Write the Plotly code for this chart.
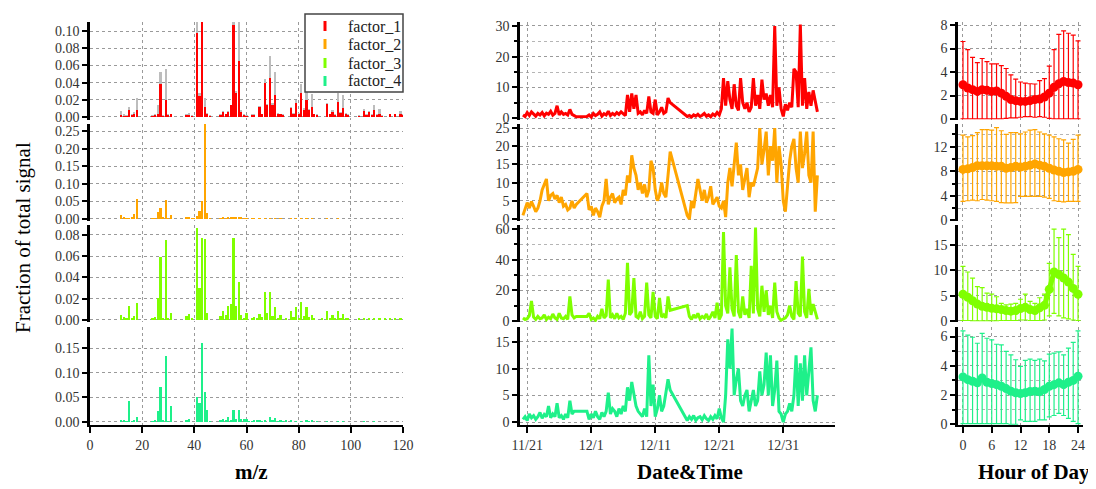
import plotly.graph_objects as go
import pandas as pd

# The page body adds an 8px offset; the figure is sized so it ends at the window edge.
OFF = 8
FW, FH = 1088, 481
SERIF = "Liberation Serif, DejaVu Serif, serif"

FACTORS = ["factor_1", "factor_2", "factor_3", "factor_4"]
COLORS = ["#FF0000", "#FFA500", "#7FFF00", "#1EF08A"]
GRAY = "#BDBDBD"

# ---------------- mass spectra (sparse m/z lists) ----------------
F1_MZ = [12, 13, 14, 15, 16, 17, 18, 24, 25, 26, 27, 28, 29, 30, 31, 37, 38, 39, 41, 42, 43, 44, 45, 46,
         50, 51, 52, 53, 54, 55, 56, 57, 58, 59, 60, 62, 63, 65, 66, 67, 68, 69, 70, 71, 72, 73, 74,
         77, 78, 79, 80, 81, 82, 83, 84, 85, 86, 87, 91, 92, 93, 94, 95, 96, 97, 98, 99, 103,
         105, 106, 107, 108, 109, 110, 111, 112, 115, 117, 119, 120]
F1_RED = [0.002, 0.001, 0.001, 0.008, 0.002, 0.003, 0.008, 0.001, 0.002, 0.004, 0.038, 0.001, 0.020, 0.002, 0.003,
          0.002, 0.002, 0.001, 0.098, 0.025, 0.140, 0.012, 0.004, 0.001,
          0.002, 0.006, 0.003, 0.006, 0.014, 0.107, 0.028, 0.065, 0.006, 0.002, 0.001, 0.002, 0.002,
          0.012, 0.003, 0.039, 0.014, 0.045, 0.014, 0.026, 0.004, 0.003, 0.002,
          0.011, 0.004, 0.016, 0.004, 0.028, 0.008, 0.020, 0.008, 0.012, 0.003, 0.002,
          0.015, 0.003, 0.006, 0.002, 0.017, 0.005, 0.010, 0.004, 0.002, 0.001,
          0.007, 0.002, 0.006, 0.002, 0.008, 0.002, 0.004, 0.001, 0.003, 0.003, 0.004, 0.002]
F1_GRAY = [0.007, 0.003, 0.002, 0.012, 0.004, 0.006, 0.022, 0.002, 0.003, 0.014, 0.052, 0.002, 0.056, 0.004, 0.004,
           0.003, 0.005, 0.002, 0.130, 0.028, 0.150, 0.022, 0.005, 0.002,
           0.003, 0.007, 0.004, 0.007, 0.014, 0.130, 0.030, 0.130, 0.008, 0.003, 0.002, 0.003, 0.003,
           0.013, 0.004, 0.044, 0.015, 0.071, 0.016, 0.052, 0.005, 0.004, 0.003,
           0.012, 0.005, 0.020, 0.005, 0.038, 0.010, 0.030, 0.009, 0.027, 0.004, 0.003,
           0.016, 0.004, 0.008, 0.003, 0.028, 0.006, 0.026, 0.005, 0.003, 0.002,
           0.009, 0.003, 0.007, 0.003, 0.014, 0.003, 0.009, 0.002, 0.004, 0.004, 0.007, 0.003]

F2_MZ = [12, 13, 14, 15, 16, 17, 18, 24, 25, 26, 27, 28, 29, 30, 31, 37, 38, 39, 40, 41, 42, 43, 44, 45, 46,
         50, 51, 52, 53, 54, 55, 56, 57, 58, 59, 60, 62, 63, 65, 67, 69, 71, 73, 77, 79, 81, 83, 85, 91, 95]
F2_VAL = [0.012, 0.004, 0.002, 0.002, 0.004, 0.014, 0.058, 0.001, 0.002, 0.020, 0.032, 0.004, 0.053, 0.002, 0.010,
          0.003, 0.004, 0.002, 0.001, 0.008, 0.022, 0.050, 0.270, 0.016, 0.002,
          0.002, 0.003, 0.002, 0.004, 0.005, 0.005, 0.004, 0.005, 0.003, 0.002, 0.002, 0.001, 0.001,
          0.002, 0.002, 0.002, 0.001, 0.001, 0.001, 0.001, 0.001, 0.001, 0.001, 0.001, 0.001]

F3_MZ = [12, 13, 14, 15, 16, 17, 18, 24, 25, 26, 27, 28, 29, 30, 31, 37, 38, 39, 41, 42, 43, 44, 45,
         50, 51, 52, 53, 54, 55, 56, 57, 58, 59, 60, 62, 63, 64, 65, 66, 67, 68, 69, 70, 71, 72, 73, 75,
         77, 78, 79, 80, 81, 82, 83, 84, 85, 86, 89, 91, 92, 93, 94, 95, 96, 97, 98, 99, 103,
         105, 107, 109, 111, 113, 115, 117, 119]
F3_VAL = [0.005, 0.003, 0.001, 0.013, 0.002, 0.004, 0.016, 0.001, 0.003, 0.021, 0.059, 0.002, 0.075, 0.002, 0.007,
          0.004, 0.006, 0.001, 0.087, 0.030, 0.077, 0.076, 0.007,
          0.004, 0.008, 0.005, 0.013, 0.015, 0.077, 0.013, 0.036, 0.005, 0.001, 0.007, 0.002, 0.003, 0.002,
          0.006, 0.003, 0.026, 0.007, 0.026, 0.004, 0.012, 0.002, 0.005, 0.001,
          0.008, 0.003, 0.012, 0.002, 0.017, 0.004, 0.012, 0.003, 0.005, 0.001, 0.001,
          0.008, 0.002, 0.005, 0.001, 0.008, 0.002, 0.006, 0.002, 0.001, 0.001,
          0.002, 0.002, 0.002, 0.001, 0.001, 0.001, 0.001, 0.001]

F4_MZ = [12, 13, 14, 15, 16, 17, 18, 24, 25, 26, 27, 28, 29, 30, 31, 37, 38, 41, 42, 43, 44, 45, 46,
         50, 51, 52, 53, 54, 55, 56, 57, 58, 59, 60, 61, 62, 63, 64, 65, 66, 67, 69, 70, 71, 72, 73, 74, 75,
         77, 79, 81, 83, 84, 85, 87, 91, 95, 97, 105, 109]
F4_VAL = [0.003, 0.003, 0.002, 0.043, 0.002, 0.003, 0.010, 0.002, 0.003, 0.022, 0.070, 0.003, 0.134, 0.002, 0.033,
          0.004, 0.007, 0.051, 0.039, 0.160, 0.060, 0.025, 0.002,
          0.005, 0.007, 0.004, 0.010, 0.004, 0.024, 0.007, 0.025, 0.007, 0.006, 0.006, 0.002, 0.002, 0.003,
          0.003, 0.004, 0.002, 0.003, 0.010, 0.004, 0.008, 0.002, 0.005, 0.002, 0.003,
          0.004, 0.002, 0.002, 0.004, 0.002, 0.003, 0.001, 0.002, 0.001, 0.002, 0.002, 0.001]

# ---------------- time series (8-hourly samples, three contiguous segments) ----------------
SEG_STARTS = ["2013-11-20 08:00", "2013-11-30 08:00", "2013-12-16 00:00"]
SEG_LENGTHS = [26, 40, 62]

TS1 = [1.0, 0.5, 1.8, 0.8, 2.0, 1.2, 0.6, 1.5, 1.0, 1.8, 0.7, 1.6, 1.2, 2.2, 0.9, 1.5, 4.0, 1.0, 2.0, 1.2,
       1.5, 1.0, 2.8, 1.2, 0.8, 0.4,
       0.5, 1.0, 0.3, 1.5, 0.8, 1.2, 2.0, 0.6, 1.4, 1.0, 2.2, 0.8, 1.5, 1.0, 1.8, 1.2, 2.0, 1.4, 0.8, 7.5,
       2.0, 8.0, 3.0, 7.5, 1.5, 2.0, 1.0, 2.5, 1.5, 7.0, 2.0, 1.5, 6.0, 1.0, 2.0, 3.5, 1.5, 2.0, 6.5, 5.0,
       0.5, 0.8, 0.3, 1.0, 0.6, 1.2, 0.5, 0.9, 1.5, 0.6, 1.0, 0.4, 1.3, 0.8, 1.8, 1.0,
       3.0, 13.0, 4.0, 12.0, 6.0, 3.0, 11.0, 4.0, 2.5, 13.0, 5.0, 3.0, 5.0, 2.0, 3.5, 13.0, 4.0, 7.5, 3.0,
       12.5, 6.0, 8.0, 4.0, 7.5, 3.5, 30.0, 4.0, 10.0, 3.0, 0.5, 4.5, 2.5, 5.0, 3.5, 16.0, 15.0, 3.5, 30.5,
       4.0, 13.0, 3.0, 8.5, 4.0, 9.0, 6.0, 2.0]
TS2 = [1.0, 2.5, 4.5, 3.0, 4.8, 3.5, 2.0, 3.0, 5.0, 8.0, 9.5, 11.0, 5.0, 6.5, 7.0, 5.5, 6.5, 4.5, 6.0, 3.5,
       4.0, 2.5, 3.0, 5.0, 3.0, 4.0,
       7.0, 2.5, 3.5, 1.0, 3.0, 2.0, 0.5, 3.5, 5.0, 11.0, 4.0, 6.0, 7.0, 4.5, 5.5, 6.0, 4.0, 8.0, 6.5, 12.0,
       10.0, 17.5, 14.0, 12.0, 8.0, 10.0, 7.0, 9.5, 6.0, 8.0, 16.0, 14.0, 8.0, 5.0, 6.5, 10.0, 7.0, 6.0,
       12.0, 18.5,
       1.0, 0.0, 5.0, 3.0, 7.0, 11.0, 8.0, 5.0, 8.0, 4.5, 6.0, 9.0, 4.0, 5.0, 6.0, 3.5, 3.0, 5.0, 0.5, 10.0,
       14.0, 9.0, 16.0, 21.0, 12.0, 15.0, 8.0, 11.0, 14.0, 6.0, 10.0, 9.0, 12.0, 14.0, 25.0, 15.0, 19.0,
       24.0, 12.0, 20.0, 16.0, 25.0, 10.0, 20.0, 15.0, 5.0, 2.0, 10.0, 16.0, 20.0, 22.0, 14.0, 10.0, 24.0,
       14.0, 18.0, 24.0, 12.0, 10.0, 24.0, 2.0, 12.0]
TS3 = [2.0, 1.0, 1.5, 3.5, 13.0, 2.5, 1.0, 3.0, 1.5, 2.0, 4.0, 1.0, 2.5, 1.5, 4.5, 2.0, 1.0, 5.0, 2.0, 1.5,
       3.0, 1.0, 16.0, 4.0, 2.0, 3.0,
       3.0, 5.0, 1.0, 2.0, 0.5, 3.0, 1.5, 8.0, 2.0, 3.5, 27.0, 2.0, 4.0, 1.5, 5.0, 2.0, 3.0, 1.0, 5.0, 38.0,
       4.0, 6.0, 28.0, 3.0, 2.0, 6.0, 1.5, 3.0, 25.0, 4.0, 2.0, 19.0, 3.0, 1.5, 15.0, 2.5, 4.0, 2.0, 16.0,
       7.0,
       10.0, 3.0, 1.0, 4.0, 2.0, 5.0, 1.5, 3.0, 2.0, 4.5, 1.0, 3.0, 6.0, 2.0, 12.0, 1.0, 4.0, 58.0, 10.0,
       5.0, 35.0, 8.0, 3.0, 43.0, 6.0, 2.0, 16.0, 4.0, 8.0, 2.0, 36.0, 5.0, 61.0, 8.0, 3.0, 23.0, 6.0, 20.0,
       4.0, 10.0, 2.0, 25.0, 6.0, 2.0, 0.5, 1.0, 2.0, 4.0, 10.0, 3.0, 1.0, 26.0, 5.0, 3.0, 42.0, 6.0, 2.0,
       21.0, 4.0, 11.0, 5.0, 1.0]
TS4 = [0.5, 1.0, 0.3, 1.5, 0.8, 1.2, 0.5, 1.0, 1.8, 0.7, 1.4, 1.0, 3.0, 0.8, 1.5, 1.0, 3.5, 0.8, 1.2, 0.5,
       1.5, 0.8, 4.0, 1.5, 2.0, 2.0,
       2.0, 0.5, 1.5, 0.8, 2.0, 1.0, 0.5, 1.8, 1.0, 2.0, 5.5, 1.5, 2.5, 2.0, 1.0, 2.5, 1.5, 3.0, 2.0, 6.5,
       4.0, 7.5, 5.0, 3.0, 2.0, 1.5, 1.0, 2.5, 1.0, 12.5, 3.0, 7.0, 1.0, 2.5, 5.0, 2.0, 3.0, 5.5, 8.0, 6.0,
       0.3, 1.0, 0.5, 1.2, 0.3, 0.8, 1.0, 0.4, 1.2, 0.6, 0.3, 1.0, 0.5, 1.2, 0.6, 2.5, 0.8, 0.0, 5.0, 15.5,
       10.0, 17.5, 5.0, 8.0, 10.0, 4.0, 3.0, 5.0, 6.0, 2.0, 4.0, 6.0, 3.0, 4.0, 9.5, 5.0, 7.0, 13.0, 5.0,
       12.5, 3.0, 6.0, 11.5, 2.0, 1.5, 0.0, 1.5, 2.0, 3.5, 2.0, 5.0, 12.5, 3.0, 11.0, 4.0, 12.5, 5.0, 9.0,
       14.0, 4.0, 2.0, 5.0]

# ---------------- diurnal cycles (mean, upper, lower) ----------------
HOURS = list(range(25))
D1_MEAN = [2.92, 2.64, 2.5, 2.35, 2.5, 2.44, 2.35, 2.38, 2.2, 1.93, 1.65, 1.56, 1.5, 1.5, 1.56, 1.65, 1.7,
           1.87, 2.2, 2.7, 3.0, 3.2, 3.1, 3.06, 2.92]
D1_UP = [6.6, 5.9, 5.25, 4.8, 5.15, 4.88, 4.7, 4.7, 4.55, 4.3, 3.75, 3.4, 3.15, 3.06, 3.0, 2.98, 3.26, 3.43,
         4.5, 5.9, 7.2, 7.5, 7.3, 7.15, 6.66]
D1_LO = [0.02, 0.02, 0.02, 0.02, 0.02, 0.02, 0.02, 0.02, 0.02, 0.05, 0.1, 0.1, 0.15, 0.2, 0.2, 0.15, 0.2, 0.15,
         0.05, 0.02, 0.02, 0.02, 0.02, 0.02, 0.02]
D2_MEAN = [8.3, 8.4, 8.6, 8.9, 8.9, 8.9, 8.9, 8.8, 8.8, 8.5, 8.6, 8.8, 8.7, 8.8, 9.0, 9.2, 9.0, 8.8, 8.5,
           8.2, 8.0, 7.8, 7.9, 8.0, 8.3]
D2_UP = [13.9, 13.6, 13.8, 14.3, 14.8, 14.8, 14.7, 15.1, 14.6, 14.0, 14.3, 14.3, 14.1, 14.4, 14.7, 14.8,
         14.4, 14.1, 13.9, 13.6, 13.3, 13.1, 12.6, 13.2, 13.9]
D2_LO = [3.1, 3.2, 3.3, 3.2, 3.4, 3.3, 3.2, 3.1, 2.9, 2.85, 2.85, 2.9, 3.9, 3.9, 3.9, 3.9, 3.9, 3.8, 3.6,
         3.2, 3.1, 3.0, 3.1, 3.1, 3.1]
D3_MEAN = [5.3, 4.7, 4.0, 3.35, 2.9, 2.7, 2.5, 2.4, 2.25, 2.06, 1.94, 2.06, 2.45, 2.7, 2.25, 2.06, 2.6, 3.1,
           6.26, 9.7, 9.2, 8.5, 7.7, 6.45, 5.3]
D3_UP = [10.8, 9.7, 8.5, 6.8, 6.6, 5.5, 5.3, 4.8, 3.5, 3.2, 3.35, 3.5, 4.3, 5.3, 3.9, 3.5, 4.6, 5.3, 11.4,
         18.2, 16.5, 18.2, 17.1, 13.2, 10.8]
D3_LO = [0.1, 0.1, 0.05, 0.05, 0.05, 0.05, 0.05, 0.05, 0.1, 0.1, 0.1, 0.1, 0.2, 0.2, 0.1, 0.1, 0.1, 0.2, 1.0,
         1.5, 1.0, 0.6, 0.4, 0.2, 0.1]
D4_MEAN = [3.24, 3.05, 2.94, 2.83, 3.17, 2.87, 2.78, 2.71, 2.6, 2.44, 2.26, 2.15, 2.1, 2.15, 2.24, 2.26,
           2.22, 2.38, 2.6, 2.71, 2.83, 2.71, 2.87, 3.0, 3.28]
D4_UP = [6.38, 6.1, 5.95, 5.54, 6.22, 5.88, 5.77, 5.47, 5.43, 4.98, 4.75, 4.41, 3.96, 4.37, 4.46, 4.37, 4.46,
         4.34, 4.8, 4.86, 4.95, 4.75, 5.2, 5.6, 6.38]
D4_LO = [0.05, 0.05, 0.05, 0.05, 0.05, 0.05, 0.05, 0.05, 0.05, 0.05, 0.0, 0.0, 0.3, 0.2, 0.2, 0.2, 0.3, 0.3,
         0.5, 0.6, 0.75, 0.6, 0.4, 0.2, 0.05]

DATE_TICKS = ["2013-11-21", "2013-12-01", "2013-12-11", "2013-12-21", "2013-12-31"]
DATE_LABELS = ["11/21", "12/1", "12/11", "12/21", "12/31"]


# ---------------- layout geometry (window pixels) ----------------
def fx(px):
    return (px - OFF) / FW


def fy(py):
    return 1 - (py - OFF) / FH


COL_PX = [(90, 403), (520, 835), (958, 1083)]
ROW_PX = [(22, 120), (124, 221), (225, 322), (327, 425)]

Y_RANGES = [
    [[-0.0035, 0.1105], [-0.0057, 0.27], [-0.0019, 0.0894], [-0.0061, 0.1926]],
    [[-0.65, 31.3], [-0.55, 26.1], [-0.65, 62.6], [-0.56, 17.8]],
    [[-0.085, 8.26], [-0.1, 15.7], [-0.2, 19.0], [-0.05, 6.65]],
]
Y_DTICK = [[0.02, 0.05, 0.02, 0.05], [10, 5, 20, 5], [2, 4, 5, 2]]
Y_MINOR = [[None, None, None, None], [5, None, 10, None], [None, 2, None, 1]]

times = pd.concat([pd.Series(pd.date_range(s, periods=n, freq="8h"))
                   for s, n in zip(SEG_STARTS, SEG_LENGTHS)]).tolist()

fig = go.Figure()


def ax_id(c, r):
    return c * 4 + r + 1


def ref(prefix, n):
    return prefix if n == 1 else f"{prefix}{n}"


# spectra
spectra = [(F1_MZ, F1_RED), (F2_MZ, F2_VAL), (F3_MZ, F3_VAL), (F4_MZ, F4_VAL)]
for r, (mz, vals) in enumerate(spectra):
    n = ax_id(0, r)
    if r == 0:
        fig.add_trace(go.Bar(x=F1_MZ, y=F1_GRAY, width=0.85, marker=dict(color=GRAY, line=dict(width=0)),
                             showlegend=False, xaxis=ref("x", n), yaxis=ref("y", n)))
    fig.add_trace(go.Bar(x=mz, y=vals, width=0.85, marker=dict(color=COLORS[r], line=dict(width=0)),
                         name=FACTORS[r], showlegend=False, xaxis=ref("x", n), yaxis=ref("y", n)))

# time series
for r, ts in enumerate([TS1, TS2, TS3, TS4]):
    n = ax_id(1, r)
    fig.add_trace(go.Scatter(x=times, y=ts, mode="lines", line=dict(color=COLORS[r], width=3),
                             showlegend=False, xaxis=ref("x", n), yaxis=ref("y", n)))

# diurnal
for r, (m, up, lo) in enumerate([(D1_MEAN, D1_UP, D1_LO), (D2_MEAN, D2_UP, D2_LO),
                                 (D3_MEAN, D3_UP, D3_LO), (D4_MEAN, D4_UP, D4_LO)]):
    n = ax_id(2, r)
    fig.add_trace(go.Scatter(
        x=HOURS, y=m, mode="lines+markers",
        line=dict(color=COLORS[r], width=5), marker=dict(color=COLORS[r], size=9),
        error_y=dict(type="data", symmetric=False,
                     array=[u - v for u, v in zip(up, m)],
                     arrayminus=[v - l for v, l in zip(m, lo)],
                     color=COLORS[r], thickness=1.2, width=2.5),
        showlegend=False, xaxis=ref("x", n), yaxis=ref("y", n)))

tickfont = dict(family=SERIF, size=14, color="#333")
grid = dict(showgrid=True, gridcolor="#9a9a9a", griddash="dot", gridwidth=1)

layout = {}
for c in range(3):
    x0, x1 = COL_PX[c]
    for r in range(4):
        n = ax_id(c, r)
        y0, y1 = ROW_PX[r]
        xa = dict(domain=[fx(x0), fx(x1)], anchor=ref("y", n), **grid, zeroline=False, automargin=False)
        if c == 0:
            xa.update(range=[0, 120], tick0=0, dtick=20)
        elif c == 1:
            xa.update(type="date", range=["2013-11-19 21:00", "2014-01-08 02:00"],
                      tickvals=DATE_TICKS, ticktext=DATE_LABELS)
        else:
            xa.update(range=[-1.04, 25.04], tickvals=[0, 6, 12, 18, 24])
        if r < 3:
            xa.update(showticklabels=False, ticks="", showline=False, matches=ref("x", ax_id(c, 3)))
        else:
            xa.update(showline=True, linecolor="black", linewidth=2, ticks="outside", ticklen=6,
                      tickwidth=2, tickcolor="black", tickfont=tickfont)
        ya = dict(domain=[fy(y1), fy(y0)], anchor=ref("x", n), range=Y_RANGES[c][r],
                  tick0=0, dtick=Y_DTICK[c][r], **grid, zeroline=False, automargin=False,
                  showline=True, linecolor="black", linewidth=2.5, ticks="outside", ticklen=5,
                  tickwidth=2, tickcolor="black", tickfont=tickfont)
        if c == 0:
            ya.update(tickformat=".2f")
        if Y_MINOR[c][r]:
            ya.update(minor=dict(dtick=Y_MINOR[c][r], ticks="outside", ticklen=3, tickwidth=1.5,
                                 tickcolor="black", showgrid=True, gridcolor="#b5b5b5", griddash="dot"))
        layout[ref("xaxis", n)] = xa
        layout[ref("yaxis", n)] = ya

fig.update_layout(**layout)

# hand-drawn legend box (paper coordinates)
LEG_BOX = (305, 14, 403, 92)
LEG_ROWS = [26, 44, 63, 81]
shapes = [dict(type="rect", xref="paper", yref="paper", x0=fx(LEG_BOX[0]), x1=fx(LEG_BOX[2]),
               y0=fy(LEG_BOX[3]), y1=fy(LEG_BOX[1]), fillcolor="white",
               line=dict(color="#444", width=1.5), layer="above")]
annotations = []
for name, col, ry in zip(FACTORS, COLORS, LEG_ROWS):
    shapes.append(dict(type="line", xref="paper", yref="paper", x0=fx(325), x1=fx(325),
                       y0=fy(ry + 5), y1=fy(ry - 5), line=dict(color=col, width=3), layer="above"))
    annotations.append(dict(text=name, x=fx(346), y=fy(ry), xref="paper", yref="paper",
                            xanchor="left", yanchor="middle", showarrow=False,
                            font=dict(family=SERIF, size=16, color="#222")))

annotations += [
    dict(text="Fraction of total signal", x=fx(23), y=fy(238), xref="paper", yref="paper",
         xanchor="center", yanchor="middle",
         textangle=-90, showarrow=False, font=dict(family=SERIF, size=21, color="black")),
    dict(text="<b>m/z</b>", x=fx(251), y=fy(472), xref="paper", yref="paper",
         xanchor="center", yanchor="middle",
         showarrow=False, font=dict(family=SERIF, size=21, color="black")),
    dict(text="<b>Date&Time</b>", x=fx(690), y=fy(472), xref="paper", yref="paper",
         xanchor="center", yanchor="middle",
         showarrow=False, font=dict(family=SERIF, size=21, color="black")),
    dict(text="<b>Hour of Day</b>", x=fx(1034), y=fy(472), xref="paper", yref="paper",
         xanchor="center", yanchor="middle",
         showarrow=False, font=dict(family=SERIF, size=21, color="black")),
]

fig.update_layout(
    template="none",
    width=FW, height=FH, margin=dict(l=0, r=0, t=0, b=0, pad=0, autoexpand=False),
    paper_bgcolor="white", plot_bgcolor="white",
    barmode="overlay", bargap=0, showlegend=False,
    font=dict(family=SERIF, color="#222"),
    shapes=shapes, annotations=annotations,
)

fig.write_html("out.html")
